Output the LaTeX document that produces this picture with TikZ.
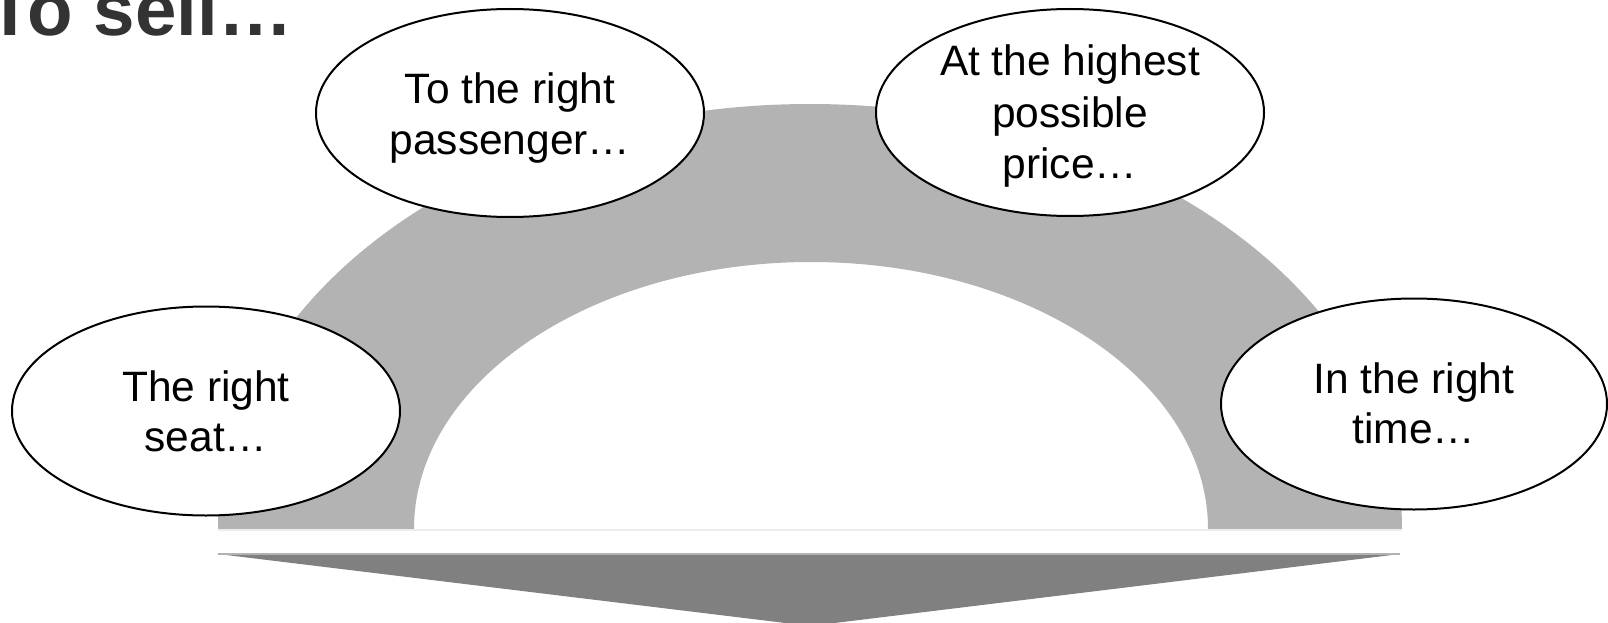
\documentclass[tikz,border=0pt]{standalone}
\usepackage{fontspec}
\setmainfont{Liberation Sans}
\usetikzlibrary{shapes.geometric}
\definecolor{archgray}{RGB}{179,179,179}
\definecolor{arrowgray}{RGB}{128,128,128}
\definecolor{titlegray}{RGB}{51,51,51}
\tikzset{
  bubble/.style={ellipse, draw=black, line width=2pt, fill=white, inner sep=0pt},
  bubtext/.style={align=center, font=\fontsize{42.5}{51}\selectfont, text=black, inner sep=0pt},
  titletext/.style={font=\fontsize{74.5}{80}\selectfont\bfseries, text=titlegray, inner sep=0pt}
}
\begin{document}
\begin{tikzpicture}[x=1pt,y=-1pt]
\useasboundingbox (0,0) rectangle (1608,623);
\fill[white] (0,0) rectangle (1608,623);
% title
\node[titletext, anchor=base west] (title) at (-12.5,36) {To sell…};
% arch
\fill[archgray] (218,529) arc[start angle=180, end angle=0, x radius=592pt, y radius=425pt]
  -- (1208,529) arc[start angle=0, end angle=180, x radius=397pt, y radius=267pt] -- cycle;
\draw[gray!15, line width=1.5pt] (218,530) -- (1402,530);
% arrow triangle
\fill[arrowgray] (218,554) -- (1400,554) -- (810,626) -- cycle;
\draw[gray!60, line width=1.5pt] (218,554) -- (1400,554);
% bubbles
\node[bubble, minimum width=388pt, minimum height=209pt,
  label={[bubtext]center:{The right\\[-1pt]seat…}}] (seat) at (206,411) {};
\node[bubble, minimum width=388pt, minimum height=208pt,
  label={[bubtext, yshift=-5.5pt]center:{To the right\\passenger…}}] (passenger) at (510,113) {};
\node[bubble, minimum width=388pt, minimum height=207pt,
  label={[bubtext, yshift=-4pt]center:{At the highest\\[0.5pt]possible\\[0.5pt]price…}}] (price) at (1070,112.5) {};
\node[bubble, minimum width=386pt, minimum height=211pt,
  label={[bubtext, yshift=1pt]center:{In the right\\[-1pt]time…}}] (time) at (1414,404) {};
\end{tikzpicture}
\end{document}
